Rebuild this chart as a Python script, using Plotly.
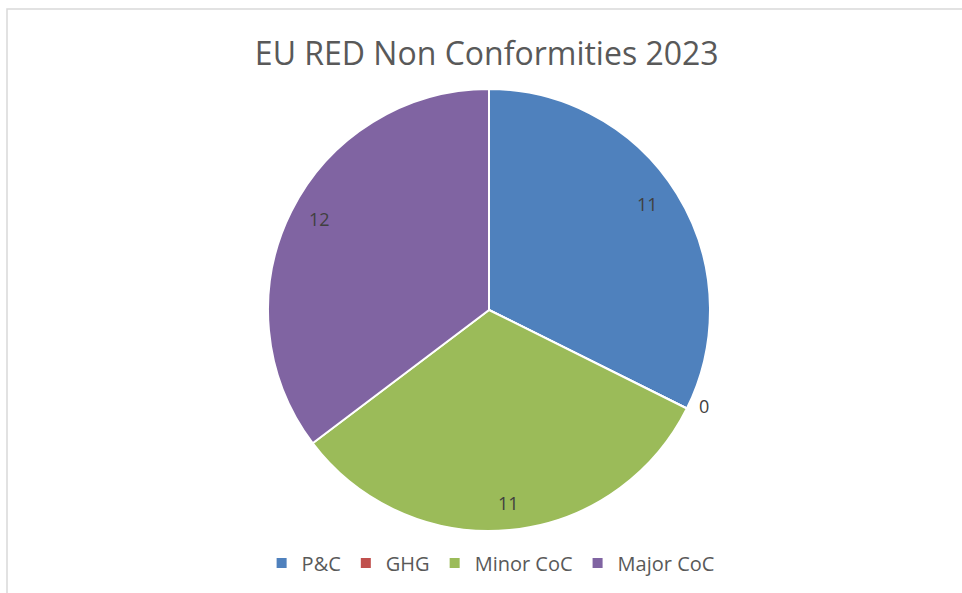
import math
import plotly.graph_objects as go

categories = ["P&C", "GHG", "Minor CoC", "Major CoC"]
values = [11, 0, 11, 12]
colors = ["#4F81BD", "#C0504D", "#9BBB59", "#8064A2"]
label_radius = [0.91, 1.12, 0.94, 0.92]   # relative distance of each data label from centre

W, H = 962, 593
cx, cy, R = 489, 310, 221  # pie centre / radius in pixels

fig = go.Figure(go.Pie(
    labels=categories,
    values=values,
    sort=False,
    direction="clockwise",
    rotation=0,
    marker=dict(colors=colors, line=dict(color="white", width=2)),
    textinfo="none",
    hoverinfo="label+value",
    domain=dict(x=[(cx - R) / W, (cx + R) / W], y=[1 - (cy + R) / H, 1 - (cy - R) / H]),
))

# data labels derived from the values
total = sum(values)
cum = 0
for v, rr in zip(values, label_radius):
    mid = (cum + v / 2) / total * 2 * math.pi
    cum += v
    px = cx + rr * R * math.sin(mid)
    py = cy - rr * R * math.cos(mid)
    fig.add_annotation(x=px / W, y=1 - py / H, xref="paper", yref="paper",
                       text=str(v), showarrow=False,
                       font=dict(family="Open Sans", size=18, color="#404040"))

fig.add_shape(type="rect", xref="paper", yref="paper",
              x0=7 / W, y0=-0.2, x1=1.2, y1=1 - 9 / H,
              line=dict(color="#D9D9D9", width=1.5), fillcolor="rgba(0,0,0,0)", layer="below")

fig.update_layout(
    width=W, height=H,
    margin=dict(l=0, r=0, t=0, b=0),
    paper_bgcolor="white",
    plot_bgcolor="white",
    title=dict(text="EU RED Non Conformities 2023", x=0.506, xanchor="center",
               y=1 - 54 / H, yanchor="middle",
               font=dict(family="Open Sans", size=32, color="#595959")),
    showlegend=True,
    legend=dict(orientation="h", x=0.51, xanchor="center", y=1 - 563 / H, yanchor="middle",
                font=dict(family="Open Sans", size=20, color="#595959"),
                itemclick=False, itemdoubleclick=False, traceorder="normal"),
)

fig.write_html("out.html")
